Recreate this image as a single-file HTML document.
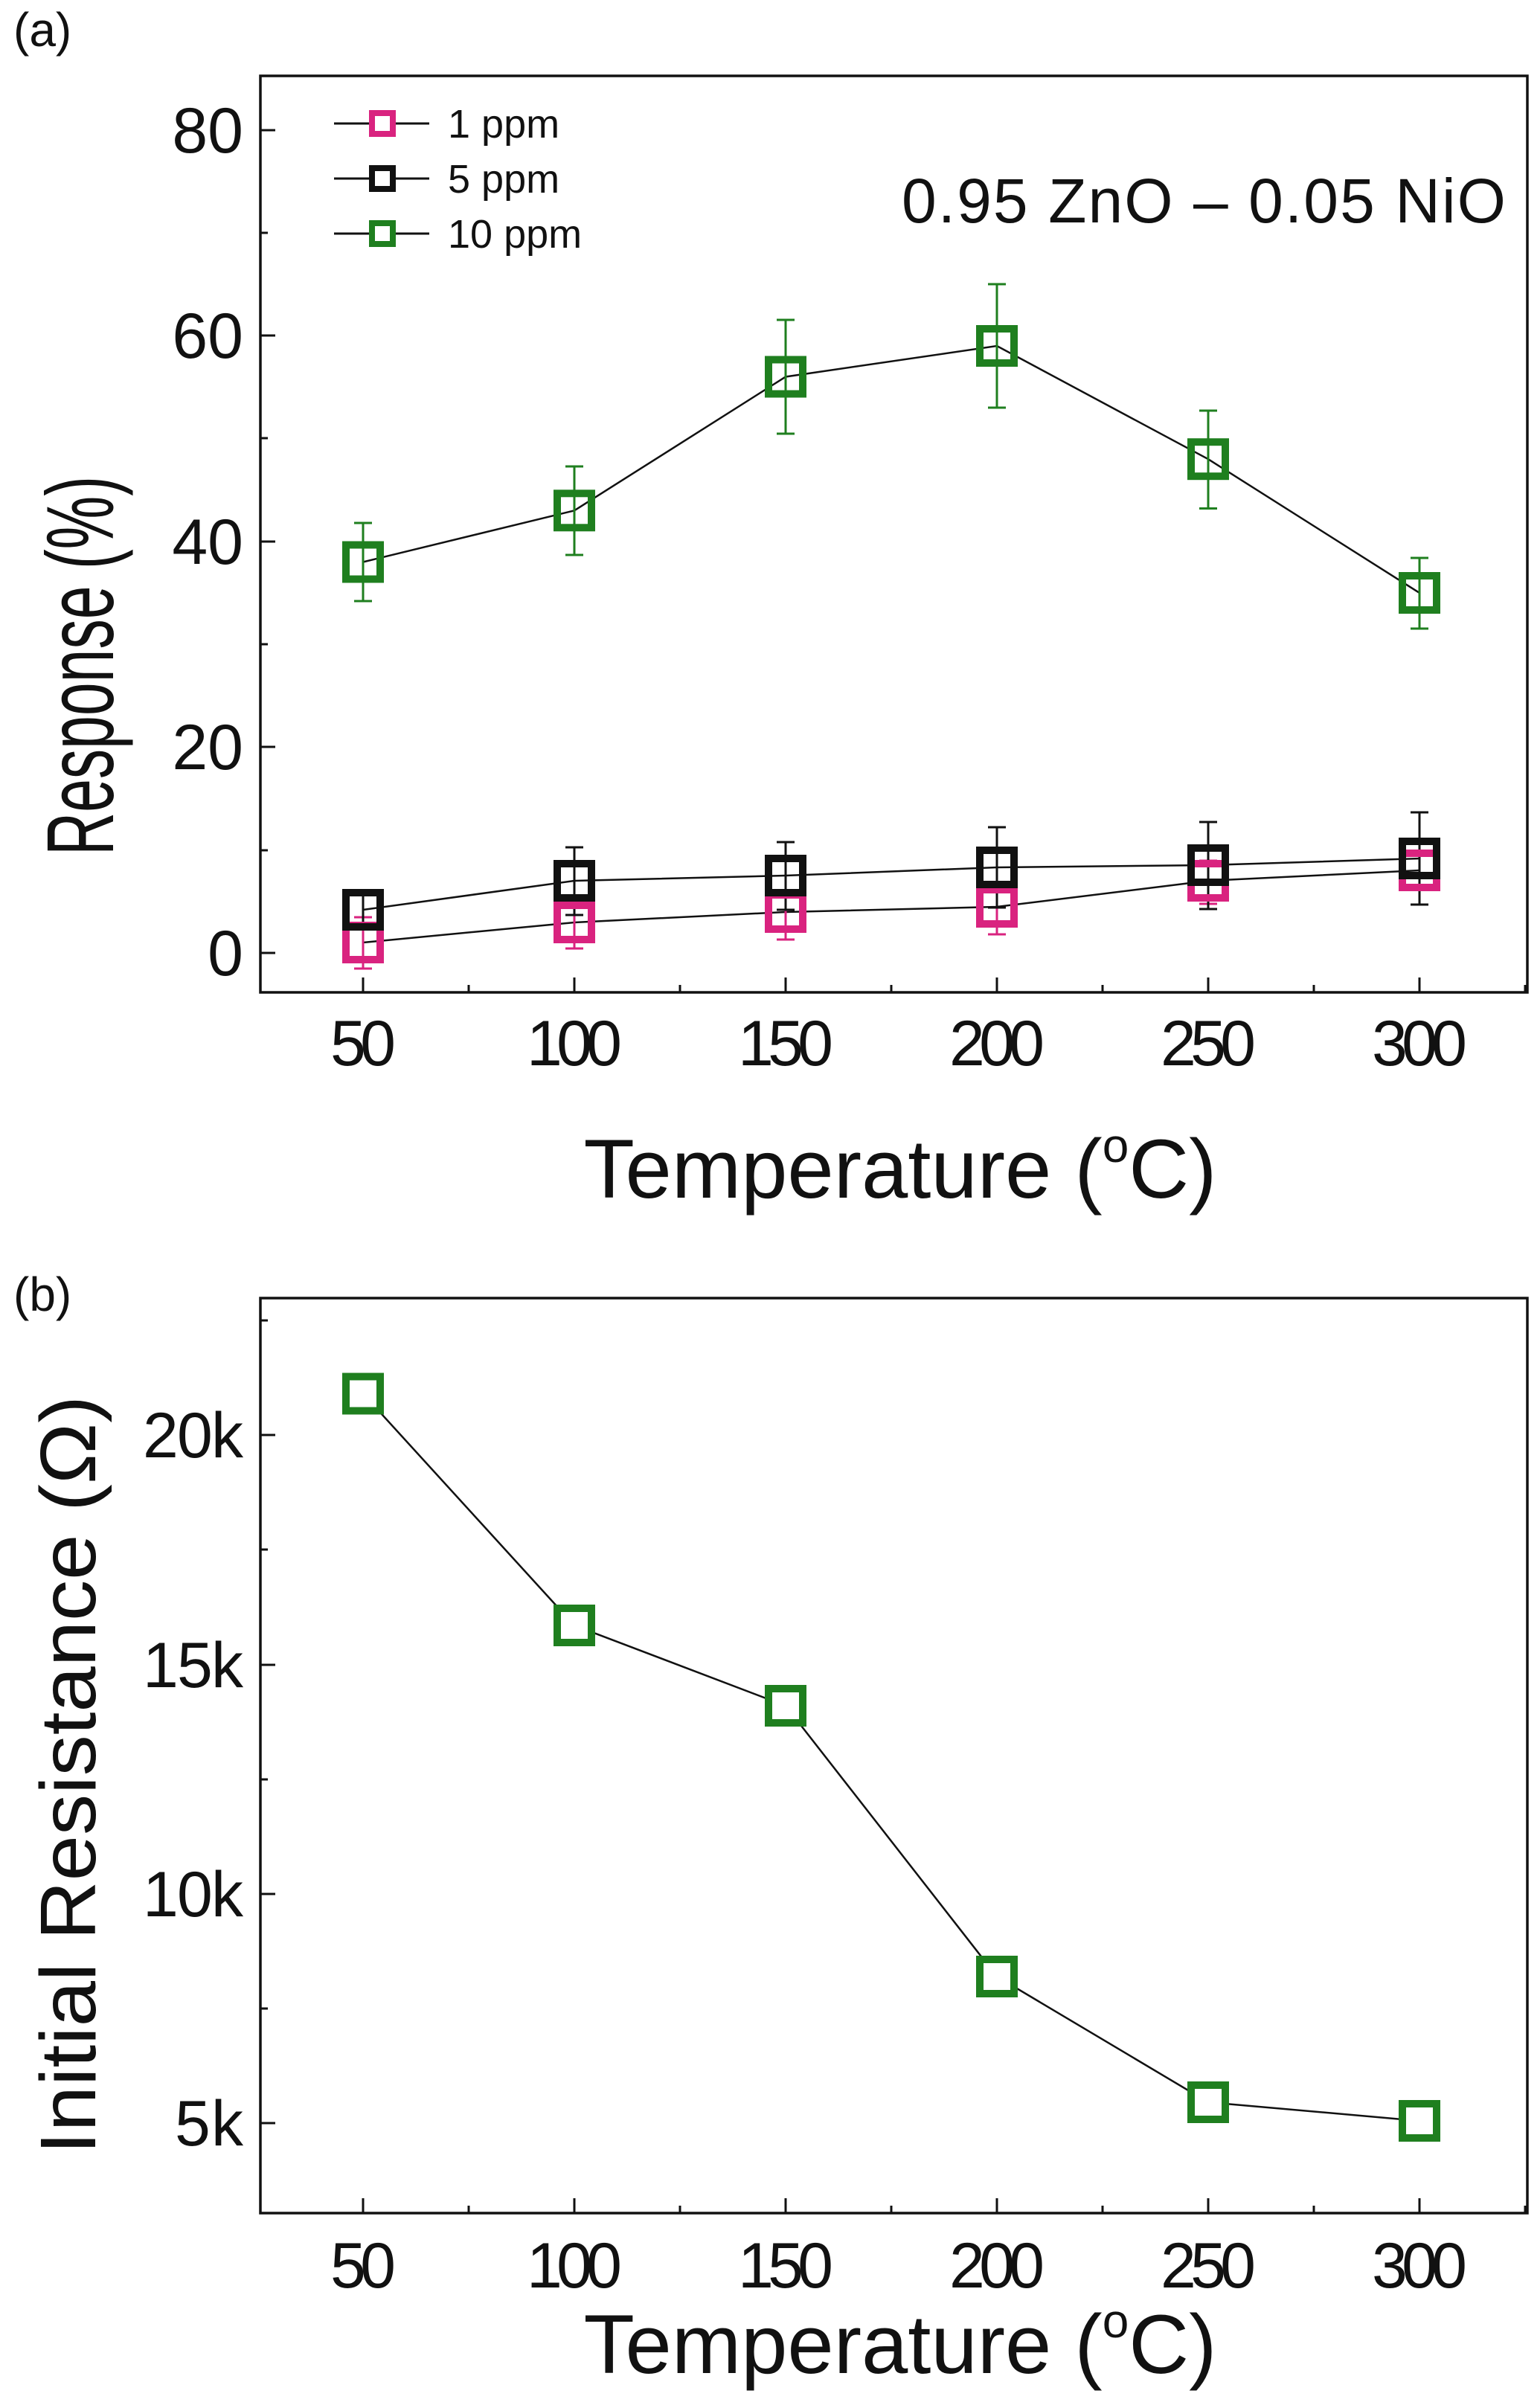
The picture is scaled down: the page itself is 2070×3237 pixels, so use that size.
<!DOCTYPE html>
<html><head><meta charset="utf-8"><style>body{margin:0;background:#fff}svg{display:block}text{font-family:"Liberation Sans",sans-serif;fill:#111}</style></head><body>
<svg width="2070" height="3237" viewBox="0 0 2070 3237" xmlns="http://www.w3.org/2000/svg">
<rect width="2070" height="3237" fill="#fff"/>
<!-- Panel a -->
<text x="18" y="62" font-size="64">(a)</text>
<rect x="350" y="102" width="1703" height="1232" fill="none" stroke="#111" stroke-width="3.5"/>
<g stroke="#111" stroke-width="3">
<line x1="488" y1="1334" x2="488" y2="1314"/><line x1="772" y1="1334" x2="772" y2="1314"/><line x1="1056" y1="1334" x2="1056" y2="1314"/><line x1="1340" y1="1334" x2="1340" y2="1314"/><line x1="1624" y1="1334" x2="1624" y2="1314"/><line x1="1908" y1="1334" x2="1908" y2="1314"/>
<line x1="630" y1="1334" x2="630" y2="1324"/><line x1="914" y1="1334" x2="914" y2="1324"/><line x1="1198" y1="1334" x2="1198" y2="1324"/><line x1="1482" y1="1334" x2="1482" y2="1324"/><line x1="1766" y1="1334" x2="1766" y2="1324"/><line x1="2050" y1="1334" x2="2050" y2="1324"/>
<line x1="350" y1="1281" x2="370" y2="1281"/><line x1="350" y1="1004" x2="370" y2="1004"/><line x1="350" y1="728" x2="370" y2="728"/><line x1="350" y1="451" x2="370" y2="451"/><line x1="350" y1="175" x2="370" y2="175"/>
<line x1="350" y1="1143" x2="360" y2="1143"/><line x1="350" y1="866" x2="360" y2="866"/><line x1="350" y1="589" x2="360" y2="589"/><line x1="350" y1="313" x2="360" y2="313"/>
</g>
<g font-size="86" text-anchor="end">
<text x="327" y="1311">0</text><text x="327" y="1034">20</text><text x="327" y="758">40</text><text x="327" y="481">60</text><text x="327" y="205">80</text>
</g>
<g font-size="86" text-anchor="middle">
<text x="488" y="1432" textLength="88">50</text><text x="772" y="1432" textLength="128">100</text><text x="1056" y="1432" textLength="128">150</text><text x="1340" y="1432" textLength="128">200</text><text x="1624" y="1432" textLength="128">250</text><text x="1908" y="1432" textLength="128">300</text>
</g>
<text x="1210" y="1610" font-size="112" text-anchor="middle">Temperature (<tspan font-size="64" dy="-48">o</tspan><tspan dy="48">C)</tspan></text>
<text transform="translate(152,895) rotate(-90)" font-size="128" text-anchor="middle" textLength="510" lengthAdjust="spacingAndGlyphs">Response (%)</text>
<text x="1212" y="299" font-size="84" textLength="812">0.95 ZnO – 0.05 NiO</text>
<!-- legend -->
<g stroke="#111" stroke-width="3"><line x1="449" y1="166" x2="577" y2="166"/><line x1="449" y1="240" x2="577" y2="240"/><line x1="449" y1="314" x2="577" y2="314"/></g>
<rect x="500" y="152" width="28" height="28" fill="#fff" stroke="#d9237f" stroke-width="8"/>
<rect x="500" y="226" width="28" height="28" fill="#fff" stroke="#111" stroke-width="8"/>
<rect x="500" y="300" width="28" height="28" fill="#fff" stroke="#1f7f1f" stroke-width="8"/>
<g font-size="54"><text x="602" y="185">1 ppm</text><text x="602" y="259">5 ppm</text><text x="602" y="333">10 ppm</text></g>
<!-- lines -->
<g fill="none" stroke="#111" stroke-width="2.5">
<polyline points="488,755.5 772,686.3 1056,506.5 1340,465 1624,617.2 1908,797"/>
<polyline points="488,1223 772,1184 1056,1177 1340,1166 1624,1163 1908,1154"/>
<polyline points="488,1267 772,1240 1056,1226 1340,1219 1624,1184 1908,1170"/>
</g>
<!-- error bars -->
<g stroke="#d9237f" stroke-width="3" fill="none">
<path d="M488 1233V1302M476 1233H500M476 1302H500 M772 1205V1275M760 1205H784M760 1275H784 M1056 1198V1263M1044 1198H1068M1044 1263H1068 M1340 1188V1256M1328 1188H1352M1328 1256H1352 M1624 1157V1215M1612 1157H1636M1612 1215H1636 M1908 1150V1195M1896 1150H1920M1896 1195H1920"/>
</g>
<g stroke="#111" stroke-width="3" fill="none">
<path d="M488 1200V1245M476 1245H500 M772 1139V1230M760 1139H784M760 1230H784 M1056 1132V1223M1044 1132H1068M1044 1223H1068 M1340 1112V1220M1328 1112H1352M1328 1220H1352 M1624 1105V1222M1612 1105H1636M1612 1222H1636 M1908 1092V1216M1896 1092H1920M1896 1216H1920"/>
</g>
<g stroke="#1f7f1f" stroke-width="3" fill="none">
<path d="M488 703V808M476 703H500M476 808H500 M772 627V746M760 627H784M760 746H784 M1056 430V583M1044 430H1068M1044 583H1068 M1340 382V548M1328 382H1352M1328 548H1352 M1624 552V683.5M1612 552H1636M1612 683.5H1636 M1908 750V845M1896 750H1920M1896 845H1920"/>
</g>
<!-- markers -->
<g fill="none" stroke-width="10">
<g stroke="#d9237f">
<rect x="465" y="1244" width="46" height="46"/><rect x="749" y="1217" width="46" height="46"/><rect x="1033" y="1203" width="46" height="46"/><rect x="1317" y="1196" width="46" height="46"/><rect x="1601" y="1161" width="46" height="46"/><rect x="1885" y="1147" width="46" height="46"/>
</g>
<g stroke="#111">
<rect x="465" y="1200" width="46" height="46"/><rect x="749" y="1161" width="46" height="46"/><rect x="1033" y="1154" width="46" height="46"/><rect x="1317" y="1143" width="46" height="46"/><rect x="1601" y="1140" width="46" height="46"/><rect x="1885" y="1131" width="46" height="46"/>
</g>
<g stroke="#1f7f1f">
<rect x="465" y="732.5" width="46" height="46"/><rect x="749" y="663.3" width="46" height="46"/><rect x="1033" y="483.5" width="46" height="46"/><rect x="1317" y="442" width="46" height="46"/><rect x="1601" y="594.2" width="46" height="46"/><rect x="1885" y="774" width="46" height="46"/>
</g>
</g>
<!-- Panel b -->
<text x="18" y="1762" font-size="64">(b)</text>
<rect x="350" y="1745" width="1703" height="1230" fill="none" stroke="#111" stroke-width="3.5"/>
<g stroke="#111" stroke-width="3">
<line x1="488" y1="2975" x2="488" y2="2955"/><line x1="772" y1="2975" x2="772" y2="2955"/><line x1="1056" y1="2975" x2="1056" y2="2955"/><line x1="1340" y1="2975" x2="1340" y2="2955"/><line x1="1624" y1="2975" x2="1624" y2="2955"/><line x1="1908" y1="2975" x2="1908" y2="2955"/>
<line x1="630" y1="2975" x2="630" y2="2965"/><line x1="914" y1="2975" x2="914" y2="2965"/><line x1="1198" y1="2975" x2="1198" y2="2965"/><line x1="1482" y1="2975" x2="1482" y2="2965"/><line x1="1766" y1="2975" x2="1766" y2="2965"/><line x1="2050" y1="2975" x2="2050" y2="2965"/>
<line x1="350" y1="2854" x2="370" y2="2854"/><line x1="350" y1="2546" x2="370" y2="2546"/><line x1="350" y1="2238" x2="370" y2="2238"/><line x1="350" y1="1929" x2="370" y2="1929"/>
<line x1="350" y1="2700" x2="360" y2="2700"/><line x1="350" y1="2392" x2="360" y2="2392"/><line x1="350" y1="2083" x2="360" y2="2083"/><line x1="350" y1="1775" x2="360" y2="1775"/>
</g>
<g font-size="86" text-anchor="end">
<text x="327" y="2884" textLength="92">5k</text><text x="327" y="2576" textLength="135">10k</text><text x="327" y="2268" textLength="135">15k</text><text x="327" y="1959" textLength="135">20k</text>
</g>
<g font-size="86" text-anchor="middle">
<text x="488" y="3075" textLength="88">50</text><text x="772" y="3075" textLength="128">100</text><text x="1056" y="3075" textLength="128">150</text><text x="1340" y="3075" textLength="128">200</text><text x="1624" y="3075" textLength="128">250</text><text x="1908" y="3075" textLength="128">300</text>
</g>
<text x="1210" y="3190" font-size="112" text-anchor="middle">Temperature (<tspan font-size="64" dy="-48">o</tspan><tspan dy="48">C)</tspan></text>
<text transform="translate(128,2386) rotate(-90)" font-size="106" text-anchor="middle" textLength="1020" lengthAdjust="spacingAndGlyphs">Initial Resistance (Ω)</text>
<polyline fill="none" stroke="#111" stroke-width="2.5" points="488,1873.5 772,2185 1056,2293 1340,2657 1624,2826 1908,2851"/>
<g fill="#fff" stroke="#1f7f1f" stroke-width="10">
<rect x="465" y="1850.5" width="46" height="46"/><rect x="749" y="2162" width="46" height="46"/><rect x="1033" y="2270" width="46" height="46"/><rect x="1317" y="2634" width="46" height="46"/><rect x="1601" y="2803" width="46" height="46"/><rect x="1885" y="2828" width="46" height="46"/>
</g>
</svg>
</body></html>
